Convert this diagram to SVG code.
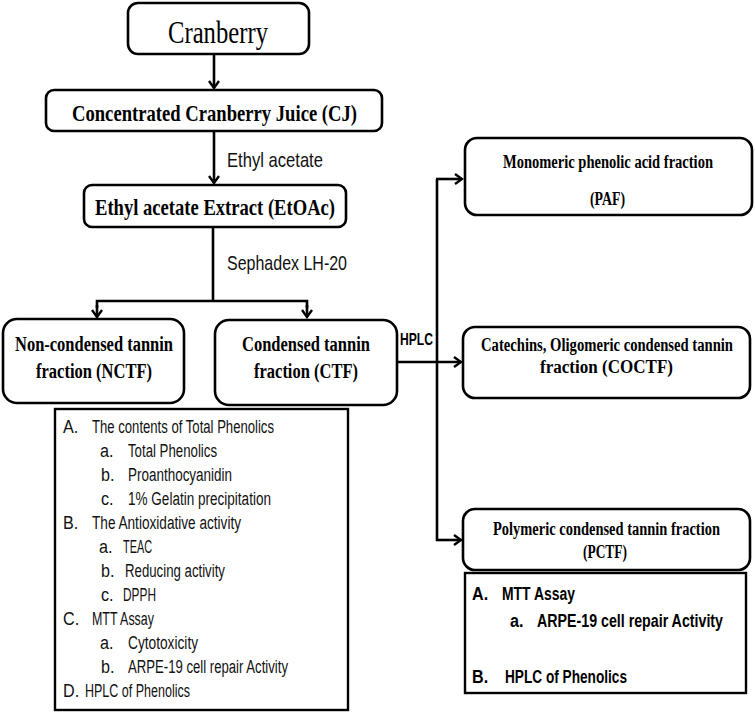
<svg xmlns="http://www.w3.org/2000/svg" width="755" height="713" viewBox="0 0 755 713">
<style>
.box{fill:#fff;stroke:#000;stroke-width:2.6}
.sq{fill:#fff;stroke:#000;stroke-width:2.4}
.ln{fill:none;stroke:#000;stroke-width:2.6}
.sb{font-family:"Liberation Serif","Times New Roman",serif;font-weight:bold;fill:#000}
.sr{font-family:"Liberation Serif","Times New Roman",serif;fill:#000}
.ss{font-family:"Liberation Sans",Arial,sans-serif;fill:#111}
.ssb{font-family:"Liberation Sans",Arial,sans-serif;font-weight:bold;fill:#000}
</style>
<defs>
<marker id="ah" markerWidth="12" markerHeight="12" refX="10" refY="6" orient="auto" markerUnits="userSpaceOnUse" viewBox="0 0 12 12">
<polyline points="3,1 10,6 3,11" fill="none" stroke="#000" stroke-width="2.4"/>
</marker>
</defs>
<rect width="755" height="713" fill="#fff"/>

<g id="connectors">
<line class="ln" x1="214" y1="55" x2="214" y2="88" marker-end="url(#ah)"/>
<line class="ln" x1="214" y1="131" x2="214" y2="183" marker-end="url(#ah)"/>
<polyline class="ln" points="213,227 213,301"/>
<polyline class="ln" points="97,308 97,301 307,301 307,308"/>
<line class="ln" x1="97" y1="305" x2="97" y2="317" marker-end="url(#ah)"/>
<line class="ln" x1="307" y1="305" x2="307" y2="317" marker-end="url(#ah)"/>
<line class="ln" x1="397" y1="362" x2="461" y2="362" marker-end="url(#ah)"/>
<polyline class="ln" points="437,179 437,541"/>
<line class="ln" x1="436" y1="179" x2="462" y2="179" marker-end="url(#ah)"/>
<line class="ln" x1="436" y1="540" x2="461" y2="540" marker-end="url(#ah)"/>
<text class="ss" transform="translate(227,167) scale(0.85,1)" font-size="20" textLength="112.9" lengthAdjust="spacingAndGlyphs">Ethyl acetate</text>
<text class="ss" transform="translate(227,270) scale(0.85,1)" font-size="20" textLength="141.2" lengthAdjust="spacingAndGlyphs">Sephadex LH-20</text>
<text class="ssb" transform="translate(400,345) scale(0.85,1)" font-size="16" textLength="38.8" lengthAdjust="spacingAndGlyphs">HPLC</text>
</g>

<g id="cranberry">
<rect class="box" x="128" y="3" width="181" height="51" rx="10"/>
<text class="sr" transform="translate(168,43) scale(0.78,1)" font-size="31" textLength="128.2" lengthAdjust="spacingAndGlyphs">Cranberry</text>
</g>

<g id="cj">
<rect class="box" x="46" y="90" width="336" height="41" rx="8"/>
<text class="sb" transform="translate(72,121) scale(0.78,1)" font-size="24" textLength="365.4" lengthAdjust="spacingAndGlyphs">Concentrated Cranberry Juice (CJ)</text>
</g>

<g id="etoac">
<rect class="box" x="84" y="185" width="262" height="42" rx="8"/>
<text class="sb" transform="translate(95,215) scale(0.78,1)" font-size="23" textLength="307.7" lengthAdjust="spacingAndGlyphs">Ethyl acetate Extract (EtOAc)</text>
</g>

<g id="nctf">
<rect class="box" x="3" y="319" width="181" height="84" rx="14"/>
<text class="sb" transform="translate(15,351) scale(0.78,1)" font-size="22" textLength="202.6" lengthAdjust="spacingAndGlyphs">Non-condensed tannin</text>
<text class="sb" transform="translate(36,378) scale(0.78,1)" font-size="22" textLength="148.7" lengthAdjust="spacingAndGlyphs">fraction (NCTF)</text>
</g>

<g id="ctf">
<rect class="box" x="215" y="320" width="182" height="85" rx="14"/>
<text class="sb" transform="translate(242,351) scale(0.78,1)" font-size="22" textLength="164.1" lengthAdjust="spacingAndGlyphs">Condensed tannin</text>
<text class="sb" transform="translate(254,378) scale(0.78,1)" font-size="22" textLength="133.3" lengthAdjust="spacingAndGlyphs">fraction (CTF)</text>
</g>

<g id="nctf-list">
<rect class="sq" x="55" y="409" width="293" height="301"/>
<g class="ss" font-size="19" lengthAdjust="spacingAndGlyphs">
<text transform="translate(63,433) scale(0.85,1)">A.</text><text transform="translate(92,433) scale(0.85,1)" textLength="214.1" lengthAdjust="spacingAndGlyphs">The contents of Total Phenolics</text>
<text transform="translate(100,457) scale(0.85,1)">a.</text><text transform="translate(128,457) scale(0.85,1)" textLength="104.7" lengthAdjust="spacingAndGlyphs">Total Phenolics</text>
<text transform="translate(101,481) scale(0.85,1)">b.</text><text transform="translate(128,481) scale(0.85,1)" textLength="122.4" lengthAdjust="spacingAndGlyphs">Proanthocyanidin</text>
<text transform="translate(101,505) scale(0.85,1)">c.</text><text transform="translate(128,505) scale(0.85,1)" textLength="168.2" lengthAdjust="spacingAndGlyphs">1% Gelatin precipitation</text>
<text transform="translate(63,529) scale(0.85,1)">B.</text><text transform="translate(92,529) scale(0.85,1)" textLength="175.3" lengthAdjust="spacingAndGlyphs">The Antioxidative activity</text>
<text transform="translate(99,553) scale(0.85,1)">a.</text><text transform="translate(123,553) scale(0.85,1)" textLength="34.1" lengthAdjust="spacingAndGlyphs">TEAC</text>
<text transform="translate(101,577) scale(0.85,1)">b.</text><text transform="translate(125,577) scale(0.85,1)" textLength="117.6" lengthAdjust="spacingAndGlyphs">Reducing activity</text>
<text transform="translate(101,601) scale(0.85,1)">c.</text><text transform="translate(123,601) scale(0.85,1)" textLength="38.8" lengthAdjust="spacingAndGlyphs">DPPH</text>
<text transform="translate(63,625) scale(0.85,1)">C.</text><text transform="translate(92,625) scale(0.85,1)" textLength="72.9" lengthAdjust="spacingAndGlyphs">MTT Assay</text>
<text transform="translate(100,649) scale(0.85,1)">a.</text><text transform="translate(128,649) scale(0.85,1)" textLength="82.4" lengthAdjust="spacingAndGlyphs">Cytotoxicity</text>
<text transform="translate(101,673) scale(0.85,1)">b.</text><text transform="translate(128,673) scale(0.85,1)" textLength="188.2" lengthAdjust="spacingAndGlyphs">ARPE-19 cell repair Activity</text>
<text transform="translate(63,697) scale(0.85,1)">D.</text><text transform="translate(85,697) scale(0.85,1)" textLength="123.5" lengthAdjust="spacingAndGlyphs">HPLC of Phenolics</text>
</g>
</g>

<g id="paf">
<rect class="box" x="465" y="138" width="287" height="77" rx="12"/>
<text class="sb" transform="translate(503,168) scale(0.78,1)" font-size="19" textLength="269.2" lengthAdjust="spacingAndGlyphs">Monomeric phenolic acid fraction</text>
<text class="sb" transform="translate(590,205) scale(0.78,1)" font-size="19" textLength="44.9" lengthAdjust="spacingAndGlyphs">(PAF)</text>
</g>

<g id="coctf">
<rect class="box" x="463" y="327" width="287" height="71" rx="12"/>
<text class="sb" transform="translate(481,351) scale(0.78,1)" font-size="19" textLength="323.1" lengthAdjust="spacingAndGlyphs">Catechins, Oligomeric  condensed tannin</text>
<text class="sb" transform="translate(540,373) scale(0.78,1)" font-size="19" textLength="170.5" lengthAdjust="spacingAndGlyphs">fraction (COCTF)</text>
</g>

<g id="pctf">
<rect class="box" x="463" y="509" width="287" height="61" rx="12"/>
<text class="sb" transform="translate(493,535) scale(0.78,1)" font-size="19" textLength="291" lengthAdjust="spacingAndGlyphs">Polymeric condensed tannin fraction</text>
<text class="sb" transform="translate(583,558) scale(0.78,1)" font-size="19" textLength="56.4" lengthAdjust="spacingAndGlyphs">(PCTF)</text>
</g>

<g id="pctf-list">
<rect class="sq" x="465" y="573" width="281" height="120"/>
<g class="ssb" font-size="19">
<text transform="translate(472,600) scale(0.85,1)">A.</text><text transform="translate(502,600) scale(0.85,1)" textLength="85.9" lengthAdjust="spacingAndGlyphs">MTT Assay</text>
<text transform="translate(510,627) scale(0.85,1)">a.</text><text transform="translate(537,627) scale(0.85,1)" textLength="218.8" lengthAdjust="spacingAndGlyphs">ARPE-19 cell repair Activity</text>
<text transform="translate(472,683) scale(0.85,1)">B.</text><text transform="translate(505,683) scale(0.85,1)" textLength="143.5" lengthAdjust="spacingAndGlyphs">HPLC of Phenolics</text>
</g>
</g>
</svg>
